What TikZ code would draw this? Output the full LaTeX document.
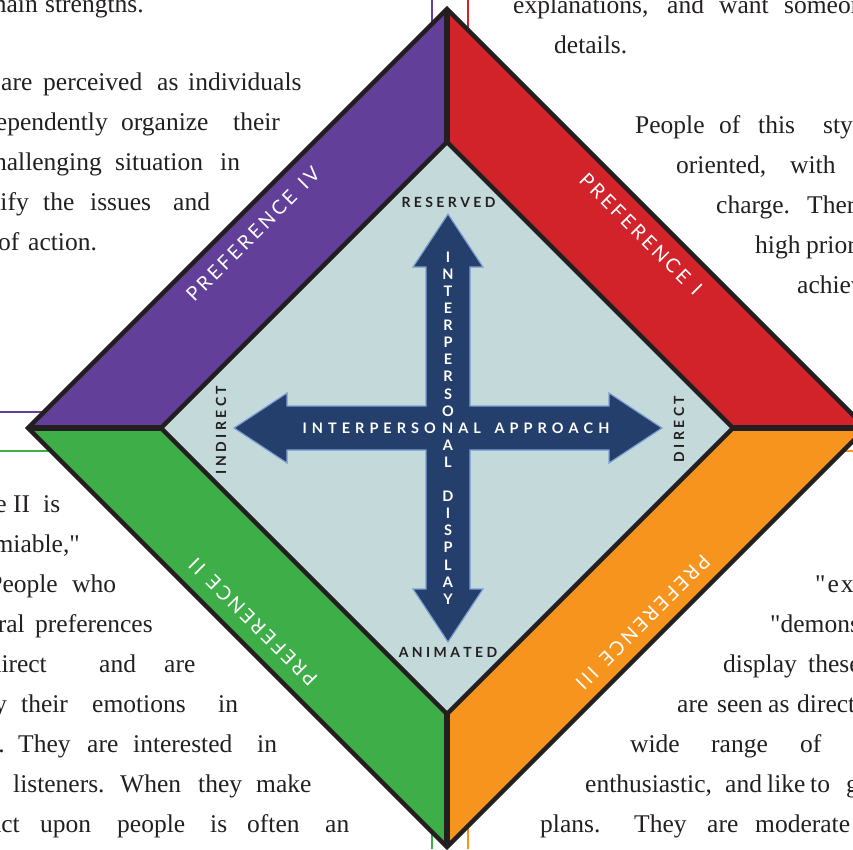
\documentclass[tikz,border=0pt]{standalone}
\usepackage{fontspec}
% body face kept without TeX ligature mapping, so " stays a straight quote
\newfontfamily\bodyfont{Liberation Serif}
\newfontfamily\labelfont{Lato}

\definecolor{inkblack}{HTML}{231F20}
\definecolor{bandpurple}{HTML}{62409A}
\definecolor{bandred}{HTML}{D2232A}
\definecolor{bandgreen}{HTML}{3EAE49}
\definecolor{bandorange}{HTML}{F7941E}
\definecolor{corefill}{HTML}{C4D9D9}
\definecolor{arrownavy}{HTML}{243F6B}
\definecolor{arrowedge}{HTML}{7EA1D4}

% letter-spaced capitals: \spreadout{gap}{LETTERS}, a ~ stands for a word space
\makeatletter
\newcommand\spreadout[2]{\def\spr@gap{#1}\spr@loop#2\@nil}
\def\spr@loop#1#2\@nil{#1\ifx\relax#2\relax\else\hspace{\spr@gap}\spr@loop#2\@nil\fi}
\makeatother

% one line of body text, word by word: prefix, baseline, x/word list
\newcommand\wordrow[3]{%
  \foreach \wx/\wt [count=\wk] in {#3}{%
    \node[body, anchor=base west] (#1-\wk) at (\wx,#2) {\wt};}}
% a word whose right end is given (it runs off the left margin)
\newcommand\leadword[4]{\node[body, anchor=base east] (#1) at (#2,#3) {#4};}

\begin{document}
\begin{tikzpicture}[x=1pt,y=-1pt,
  body/.style={font=\bodyfont\fontsize{25.5}{25.5}\selectfont, text=inkblack, inner sep=0pt},
  preflabel/.style={font=\labelfont\fontsize{19.5}{19.5}\selectfont, text=white, inner sep=0pt},
  axislabel/.style={font=\labelfont\bfseries\fontsize{14}{14}\selectfont, text=inkblack, inner sep=0pt},
  arrowtext/.style={font=\labelfont\bfseries\fontsize{14.5}{14.5}\selectfont, text=white, inner sep=0pt},
  frameline/.style={line width=1.3pt},
  rim/.style={draw=inkblack, line width=4.5pt, line join=miter},
  divider/.style={draw=inkblack, line width=6pt},
  crossarrow/.style={fill=arrownavy, draw=arrowedge, line width=1.2pt, line join=miter}]

\useasboundingbox (0,0) rectangle (853,849);
\clip (0,0) rectangle (853,849);

% ---- column frame rules behind the diamond ----
\draw[frameline, bandpurple] (0,412) -- (200,412);
\draw[frameline, bandpurple] (432,0) -- (432,100);
\draw[frameline, bandred] (468,0) -- (468,100);
\draw[frameline, bandgreen] (0,451) -- (200,451);
\draw[frameline, bandgreen] (432,849) -- (432,760);
\draw[frameline, bandorange] (853,451) -- (700,451);
\draw[frameline, bandorange] (468,849) -- (468,760);

% ---- body text, top left ----
\leadword{tl0a}{38}{12}{main}
\wordrow{tl0}{12}{45/strengths.}
\wordrow{tl1}{90}{1/are, 43/perceived, 157/as, 188/individuals}
\leadword{tl2a}{108}{130}{independently}
\wordrow{tl2}{130}{121/organize, 233/their}
\leadword{tl3a}{102}{170}{challenging}
\wordrow{tl3}{170}{115/situation, 220/in}
\leadword{tl4a}{29}{210}{identify}
\wordrow{tl4}{210}{43/the, 90/issues, 173/and}
\wordrow{tl5}{250}{-2/of, 28/action.}

% ---- body text, top right ----
\wordrow{tr0}{13}{513/{explanations,}, 667/and, 719/want, 784/someone}
\wordrow{tr1}{53}{554/details.}
\wordrow{tr2}{133}{635/People, 719/of, 758/this, 823/style}
\wordrow{tr3}{173}{676/{oriented,}, 790/with}
\wordrow{tr4}{213}{716/charge., 807/There}
\wordrow{tr5}{253}{755/high, 806/priority}
\wordrow{tr6}{293}{797/achievement}

% ---- body text, bottom left ----
\leadword{bl0a}{7}{512}{Preference}
\wordrow{bl0}{512}{13/II, 43/is}
\leadword{bl1a}{80}{552}{"amiable,"}
\leadword{bl2a}{58}{592}{People}
\wordrow{bl2}{592}{72/who}
\leadword{bl3a}{25}{632}{behavioral}
\wordrow{bl3}{632}{35/preferences}
\leadword{bl4a}{47}{672}{indirect}
\wordrow{bl4}{672}{99/and, 164/are}
\leadword{bl5a}{7}{712}{display}
\wordrow{bl5}{712}{21/their, 92/emotions, 218/in}
\leadword{bl6a}{5}{752}{openly.}
\wordrow{bl6}{752}{18/They, 87/are, 133/interested, 257/in}
\wordrow{bl7}{792}{13/listeners., 120/When, 198/they, 256/make}
\leadword{bl8a}{20}{832}{impact}
\wordrow{bl8}{832}{40/upon, 117/people, 210/is, 247/often, 325/an}

% ---- body text, bottom right ----
\node[body, anchor=base west] (br0-1) at (815,592) {\spreadout{2pt}{"expressive"}};
\wordrow{br1}{632}{770/"demonstrative"}
\wordrow{br2}{672}{723/display, 808/these}
\wordrow{br3}{712}{677/are, 717/seen, 768/as, 797/direct}
\wordrow{br4}{752}{630/wide, 711/range, 800/of}
\wordrow{br5}{792}{585/{enthusiastic,}, 725/and, 767/like, 810/to, 846/get}
\wordrow{br6}{832}{540/plans., 634/They, 707/are, 755/moderate}

% ---- the diamond ----
\coordinate (OT) at (447,9);
\coordinate (OR) at (866,428);
\coordinate (OB) at (447,847);
\coordinate (OL) at (28,428);
\coordinate (IT) at (447,142);
\coordinate (IR) at (733,428);
\coordinate (IB) at (447,714);
\coordinate (IL) at (161,428);

\fill[bandpurple] (OL) -- (OT) -- (IT) -- (IL) -- cycle;
\fill[bandred]    (OT) -- (OR) -- (IR) -- (IT) -- cycle;
\fill[bandorange] (OR) -- (OB) -- (IB) -- (IR) -- cycle;
\fill[bandgreen]  (OB) -- (OL) -- (IL) -- (IB) -- cycle;
\fill[corefill]   (IT) -- (IR) -- (IB) -- (IL) -- cycle;

\draw[divider] (OT) -- (IT);
\draw[divider] (IR) -- (OR);
\draw[divider] (IB) -- (OB);
\draw[divider] (OL) -- (IL);
\draw[rim] (OT) -- (OR) -- (OB) -- (OL) -- cycle;
\draw[rim] (IT) -- (IR) -- (IB) -- (IL) -- cycle;

% ---- band labels ----
\node[preflabel, rotate=45]   (pref4) at (253,234) {\spreadout{3pt}{PREFERENCE~IV}};
\node[preflabel, rotate=-45]  (pref1) at (641,234) {\spreadout{3pt}{PREFERENCE~I}};
\node[preflabel, rotate=135]  (pref2) at (253,622) {\spreadout{3pt}{PREFERENCE~II}};
\node[preflabel, rotate=-135] (pref3) at (643,622) {\spreadout{3pt}{PREFERENCE~III}};

% ---- four-way arrow ----
\begin{scope}[shift={(448,428)}]
\draw[crossarrow]
  (0,-214) -- (35,-161) -- (22,-161) -- (22,-22) -- (161,-22) -- (161,-35) -- (214,0)
  -- (161,35) -- (161,22) -- (22,22) -- (22,161) -- (35,161) -- (0,214)
  -- (-35,161) -- (-22,161) -- (-22,22) -- (-161,22) -- (-161,35) -- (-214,0)
  -- (-161,-35) -- (-161,-22) -- (-22,-22) -- (-22,-161) -- (-35,-161) -- cycle;
\end{scope}

% ---- axis end labels ----
\node[axislabel, anchor=base] (reserved) at (448.5,207) {\spreadout{3.4pt}{RESERVED}};
\node[axislabel, anchor=base] (animated) at (448,657) {\spreadout{3.4pt}{ANIMATED}};
\node[axislabel, rotate=90] (indirect) at (221,430) {\spreadout{3.4pt}{INDIRECT}};
\node[axislabel, rotate=90] (direct) at (679,429) {\spreadout{3.4pt}{DIRECT}};

% ---- arrow captions: horizontal line shares its N with the vertical column ----
\node[arrowtext, anchor=base east] (approachA) at (436,433) {\spreadout{5pt}{INTERPERSO}};
\node[arrowtext, anchor=base west] (approachB) at (442,433) {\spreadout{5pt}{NAL~APPROACH}};
\foreach \k/\ch in {0/I,1/N,2/T,3/E,4/R,5/P,6/E,7/R,8/S,9/O,11/A,12/L,
                    14/D,15/I,16/S,17/P,18/L,19/A,20/Y}{
  \node[arrowtext] (disp-\k) at (448,{428+(\k-10)*17.1}) {\ch};}

\end{tikzpicture}
\end{document}
